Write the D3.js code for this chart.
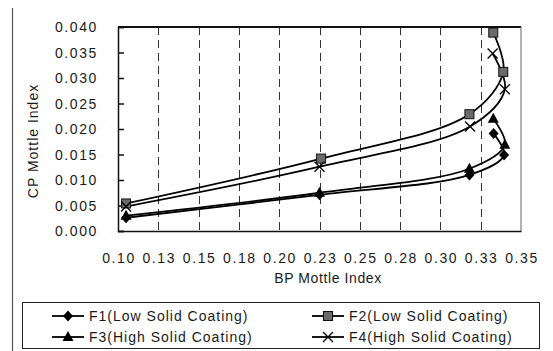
<!DOCTYPE html>
<html>
<head>
<meta charset="utf-8">
<script src="https://cdn.jsdelivr.net/npm/d3@7"></script>
<style>
  body { margin: 0; background: #fff; }
  svg text { font-family: "Liberation Sans", Arial, sans-serif; fill: #1a1a1a; }
</style>
</head>
<body>
<div id="chart"></div>
<script>
// series names
var seriesNames = ["F1(Low Solid Coating)", "F2(Low Solid Coating)", "F3(High Solid Coating)", "F4(High Solid Coating)"];
var markers = ["diamond", "square", "triangle", "cross"];

// BP mottle index (x) per series
var bpF1 = [0.105, 0.225, 0.318, 0.3395, 0.333];
var bpF2 = [0.105, 0.226, 0.318, 0.339, 0.3328];
var bpF3 = [0.105, 0.225, 0.318, 0.340, 0.3328];
var bpF4 = [0.105, 0.225, 0.3184, 0.340, 0.3324];

// CP mottle index (y) per series
var cpF1 = [0.0026, 0.0071, 0.0110, 0.0149, 0.0191];
var cpF2 = [0.0054, 0.0142, 0.0229, 0.0312, 0.0389];
var cpF3 = [0.0030, 0.0075, 0.0122, 0.0169, 0.0220];
var cpF4 = [0.0048, 0.0126, 0.0205, 0.0278, 0.0348];

var xTicks = [0.1, 0.125, 0.15, 0.175, 0.2, 0.225, 0.25, 0.275, 0.3, 0.325, 0.35];
var yTicks = [0, 0.005, 0.01, 0.015, 0.02, 0.025, 0.03, 0.035, 0.04];

var W = 553, H = 351;
var pLeft = 118, pRight = 521, pTop = 27, pBottom = 231;

var svg = d3.select("#chart").append("svg").attr("width", W).attr("height", H);

var x = d3.scaleLinear().domain([0.1, 0.35]).range([pLeft, pRight]);
var y = d3.scaleLinear().domain([0, 0.04]).range([pBottom, pTop]);

// outer frame edge on the left
svg.append("line").attr("x1", 12.5).attr("x2", 12.5).attr("y1", 8).attr("y2", H)
  .attr("stroke", "#555").attr("stroke-width", 1.2);

// dashed gridlines
svg.append("g").selectAll("line").data(xTicks.slice(1, -1)).join("line")
  .attr("x1", d => Math.round(x(d)) + 0.5).attr("x2", d => Math.round(x(d)) + 0.5)
  .attr("y1", pTop).attr("y2", pBottom)
  .attr("stroke", "#333").attr("stroke-width", 1)
  .attr("stroke-dasharray", "8,5");

// plot border
svg.append("line").attr("x1", pLeft).attr("x2", pRight).attr("y1", pTop).attr("y2", pTop)
  .attr("stroke", "#111").attr("stroke-width", 2);
svg.append("line").attr("x1", pRight).attr("x2", pRight).attr("y1", pTop).attr("y2", pBottom)
  .attr("stroke", "#666").attr("stroke-width", 1);

// y axis (ticks inside)
var yAxis = d3.axisRight(y).tickValues(yTicks).tickSize(6).tickFormat("");
var gy = svg.append("g").attr("transform", "translate(" + pLeft + ",0)").call(yAxis);
gy.selectAll("path, line").attr("stroke", "#111").attr("stroke-width", 1.5);

svg.append("g").selectAll("text").data(yTicks).join("text")
  .attr("x", 98).attr("y", d => y(d)).attr("dy", "0.36em")
  .attr("text-anchor", "end").style("font-size", "14px").style("letter-spacing", "1.6px")
  .text(d => d3.format(".3f")(d));

// x axis
var xAxis = d3.axisBottom(x).tickValues(xTicks).tickSize(0).tickFormat("");
var gx = svg.append("g").attr("transform", "translate(0," + pBottom + ")").call(xAxis);
gx.selectAll("path").attr("stroke", "#111").attr("stroke-width", 1.5);

svg.append("g").selectAll("text").data(xTicks).join("text")
  .attr("x", d => x(d) + 1).attr("y", 258).attr("dy", "0.36em")
  .attr("text-anchor", "middle").style("font-size", "14px").style("letter-spacing", "1.6px")
  .text(d => d3.format(".2f")(d + 1e-9));

// axis titles
svg.append("text").attr("x", 328).attr("y", 278).attr("dy", "0.36em")
  .attr("text-anchor", "middle").style("font-size", "14px").style("letter-spacing", "0.6px")
  .text("BP Mottle Index");
svg.append("text").attr("transform", "translate(33,141) rotate(-90)").attr("dy", "0.36em")
  .attr("text-anchor", "middle").style("font-size", "14px").style("letter-spacing", "1px")
  .text("CP Mottle Index");

// markers
function drawMarker(g, type, cx, cy) {
  if (type == "diamond") {
    g.append("path").attr("d", "M" + cx + "," + (cy - 5.5) + "L" + (cx + 5) + "," + cy + "L" + cx + "," + (cy + 5.5) + "L" + (cx - 5) + "," + cy + "Z")
      .attr("fill", "#000");
  } else if (type == "square") {
    g.append("rect").attr("x", cx - 4.5).attr("y", cy - 4.5).attr("width", 9).attr("height", 9)
      .attr("fill", "#6a6a6a").attr("stroke", "#111").attr("stroke-width", 1);
  } else if (type == "triangle") {
    g.append("path").attr("d", "M" + cx + "," + (cy - 6) + "L" + (cx + 5.5) + "," + (cy + 4) + "L" + (cx - 5.5) + "," + (cy + 4) + "Z")
      .attr("fill", "#000");
  } else {
    g.append("path").attr("d", "M" + (cx - 5) + "," + (cy - 5) + "L" + (cx + 5) + "," + (cy + 5) + "M" + (cx + 5) + "," + (cy - 5) + "L" + (cx - 5) + "," + (cy + 5))
      .attr("stroke", "#000").attr("stroke-width", 1.3).attr("fill", "none");
  }
}

var bpAll = [bpF1, bpF2, bpF3, bpF4];
var cpAll = [cpF1, cpF2, cpF3, cpF4];

var line = d3.line().x(d => x(d[0])).y(d => y(d[1])).curve(d3.curveCatmullRom.alpha(0.5));

var plot = svg.append("g");
seriesNames.forEach(function(name, i) {
  var pts = bpAll[i].map((b, j) => [b, cpAll[i][j]]);
  plot.append("path").datum(pts).attr("d", line)
    .attr("fill", "none").attr("stroke", "#000").attr("stroke-width", 1.8);
});
seriesNames.forEach(function(name, i) {
  var mg = plot.append("g");
  bpAll[i].forEach(function(b, j) {
    drawMarker(mg, markers[i], x(b), y(cpAll[i][j]));
  });
});

// legend
svg.append("rect").attr("x", 22.5).attr("y", 302.5).attr("width", 517).attr("height", 46)
  .attr("fill", "#fff").attr("stroke", "#222").attr("stroke-width", 1);

var legPos = [[52, 316], [312, 316], [52, 337], [312, 337]];
seriesNames.forEach(function(name, i) {
  var lx = legPos[i][0], ly = legPos[i][1];
  var lg = svg.append("g");
  lg.append("line").attr("x1", lx).attr("x2", lx + 32).attr("y1", ly).attr("y2", ly)
    .attr("stroke", "#000").attr("stroke-width", 1.8);
  drawMarker(lg, markers[i], lx + 16, ly);
  lg.append("text").attr("x", lx + 37).attr("y", ly).attr("dy", "0.36em")
    .style("font-size", "14px").style("letter-spacing", "1px")
    .text(name);
});
</script>
</body>
</html>
